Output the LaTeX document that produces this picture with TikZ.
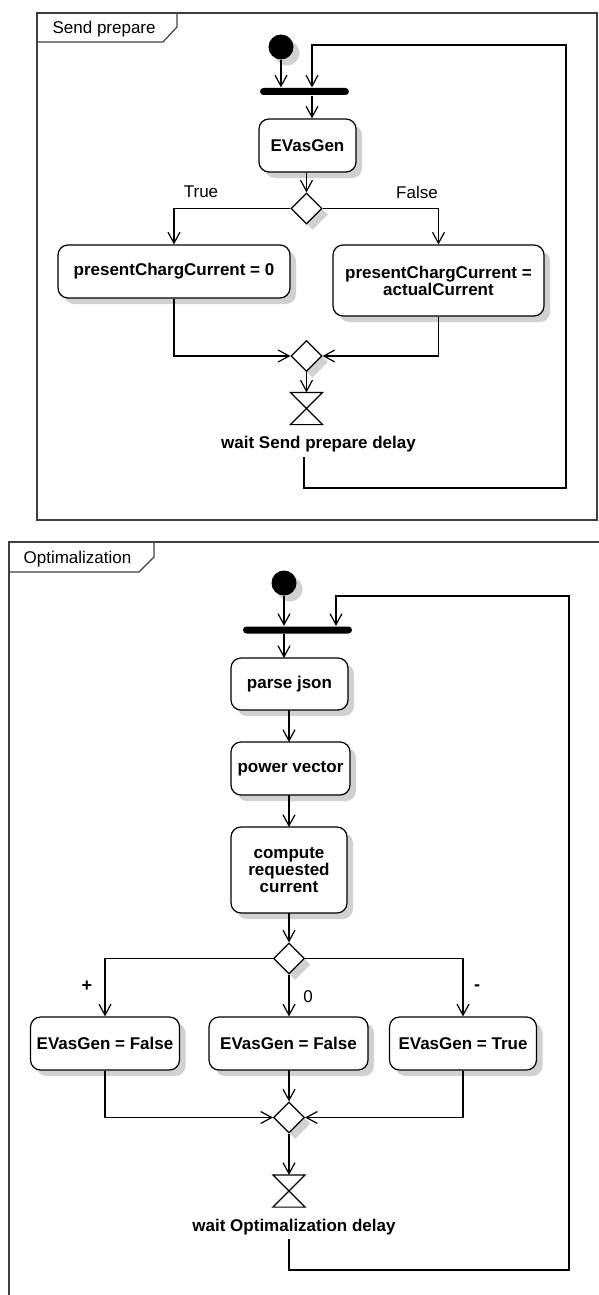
\documentclass[tikz,border=0pt]{standalone}
\usepackage{fontspec}
\setmainfont{Liberation Sans}
\usetikzlibrary{arrows.meta,shapes.geometric,shadows}
\begin{document}
\begin{tikzpicture}[x=1pt,y=-1pt,
  line width=1.2pt,
  font=\fontsize{17}{17}\selectfont,
  shad/.style={drop shadow={shadow xshift=6pt,shadow yshift=-6pt,fill=black!18,opacity=1}},
  act/.style={draw,rounded corners=10pt,fill=white,font=\fontsize{17}{17}\selectfont\bfseries,align=center,inner sep=0pt,shad},
  dec/.style={draw,diamond,aspect=1,minimum width=31pt,minimum height=31pt,inner sep=0pt,fill=white,shad},
  initnode/.style={circle,fill=black,minimum size=25pt,inner sep=0pt,shad},
  forkbar/.style={fill=black,rounded corners=3.5pt,inner sep=0pt,minimum height=7pt},
  hgbox/.style={minimum width=31pt,minimum height=31pt,inner sep=0pt},
  flow/.style={-{Straight Barb[length=11pt,width=12pt,line width=1.2pt]}},
  frameline/.style={draw=black!75,line width=1.2pt},
  lbl/.style={inner sep=0pt,font=\fontsize{17}{17}\selectfont}
]
\useasboundingbox (0,0) rectangle (599,1295);

% ===== Frame 1: Send prepare =====
\draw[frameline] (37,13) rectangle (597,520);
\draw[frameline] (37,42) -- (163,42) -- (177,27) -- (177,13);
\node[lbl,anchor=west] (f1lbl) at (52,29) {Send prepare};

\node[initnode] (init1) at (281,47) {};
\node[forkbar,minimum width=89pt] (bar1) at (304.5,91.5) {};
\node[act,minimum width=97pt,minimum height=53pt] (evg) at (307.5,145.5) {EVasGen};
\node[dec] (dec1) at (306.5,208.5) {};
\node[act,minimum width=232pt,minimum height=53pt] (pc0) at (174,271.5) {presentChargCurrent = 0};
\node[act,minimum width=211pt,minimum height=71pt] (pca) at (438.5,280.5) {presentChargCurrent =\\actualCurrent};
\node[dec] (mrg1) at (306.5,356) {};
\node[hgbox] (hg1) at (306.5,408.5) {};
\draw (hg1.north west) -- (hg1.north east) -- (hg1.south west) -- (hg1.south east) -- cycle;
\node[lbl,font=\fontsize{17}{17}\selectfont\bfseries] (w1) at (318.5,444) {wait Send prepare delay};
\node[lbl] (tTrue) at (201,192) {True};
\node[lbl] (tFalse) at (417,192) {False};

\coordinate (l1a) at (304,457);
\coordinate (l1b) at (566,45);
\coordinate (l1c) at (312,45);

\draw[flow] (init1) -- (init1 |- bar1.north);
\draw[flow] (l1a) -- (304,488) -- (566,488) -- (l1b) -- (l1c) -- (l1c |- bar1.north);
\draw[flow] (l1c |- bar1.south) -- (l1c |- evg.north);
\draw[flow] (306.5,172) -- (dec1.north);
\draw[flow] (dec1.west) -| (pc0.north);
\draw[flow] (dec1.east) -| (pca.north);
\draw[flow] (pc0.south) |- (mrg1.west);
\draw[flow] (pca.south) |- (mrg1.east);
\draw[flow] (mrg1.south) -- (hg1.north);

% ===== Frame 2: Optimalization =====
\draw[frameline] (9,1295) -- (9,542) -- (599,542);
\draw[frameline] (9,572) -- (139,572) -- (154,557) -- (154,542);
\node[lbl,anchor=west] (f2lbl) at (23,559) {Optimalization};

\node[initnode] (init2) at (284,583) {};
\node[forkbar,minimum width=109pt] (bar2) at (297.5,630) {};
\node[act,minimum width=117pt,minimum height=52pt] (pj) at (289.5,684) {parse json};
\node[act,minimum width=119pt,minimum height=53pt] (pv) at (290.5,768.5) {power vector};
\node[act,minimum width=116pt,minimum height=86pt] (crc) at (289,870) {compute\\requested\\current};
\node[dec] (dec2) at (289,958.5) {};
\node[act,minimum width=149pt,minimum height=53pt] (bl) at (105,1043.5) {EVasGen = False};
\node[act,minimum width=159pt,minimum height=53pt] (bm) at (288.5,1043.5) {EVasGen = False};
\node[act,minimum width=147pt,minimum height=53pt] (br) at (463,1043.5) {EVasGen = True};
\node[dec] (mrg2) at (289,1117.5) {};
\node[hgbox] (hg2) at (289,1191) {};
\draw (hg2.north west) -- (hg2.north east) -- (hg2.south west) -- (hg2.south east) -- cycle;
\node[lbl,font=\fontsize{17}{17}\selectfont\bfseries] (w2) at (294,1227) {wait Optimalization delay};
\node[lbl,font=\fontsize{18}{18}\selectfont\bfseries] (tplus) at (87,986) {+};
\node[lbl] (tzero) at (308,997) {0};
\node[lbl,font=\fontsize{18}{18}\selectfont\bfseries] (tminus) at (477,988) {-};

\coordinate (l2a) at (289,1239);
\coordinate (l2b) at (569,596);
\coordinate (l2c) at (336,596);

\draw[flow] (init2) -- (init2 |- bar2.north);
\draw[flow] (l2a) -- (289,1270) -- (569,1270) -- (l2b) -- (l2c) -- (l2c |- bar2.north);
\draw[flow] (284,633.5) -- (284,658);
\draw[flow] (289,710) -- (289,742);
\draw[flow] (289,795) -- (289,827);
\draw[flow] (289,913) -- (dec2.north);
\draw[flow] (dec2.west) -| (bl.north);
\draw[flow] (dec2.south) -- (dec2.south |- bm.north);
\draw[flow] (dec2.east) -| (br.north);
\draw[flow] (bl.south) |- (mrg2.west);
\draw[flow] (289,1070) -- (mrg2.north);
\draw[flow] (br.south) |- (mrg2.east);
\draw[flow] (mrg2.south) -- (hg2.north);
\end{tikzpicture}
\end{document}
